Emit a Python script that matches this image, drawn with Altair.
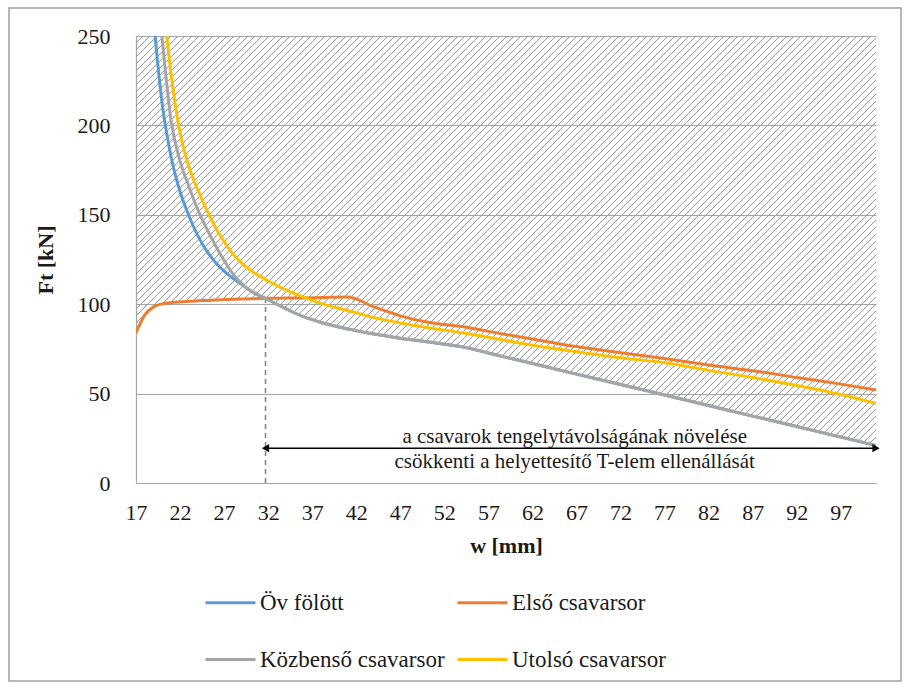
import altair as alt
import numpy as np
import pandas as pd

# ---- data -------------------------------------------------------------
w = [17, 18, 19, 20, 21, 22, 23, 24, 25, 26, 27, 28, 29, 30, 32, 34, 36, 38,
     41, 44, 47, 50, 54, 57, 62, 67, 72, 77, 82, 87, 92, 97, 101]

ov_folott = [420, 330, 260, 211, 182, 163, 149.5, 138.5, 130, 123.5, 118.5, 114.5,
             111, 107.5, 102.5, 97.5, 93, 89.8, 86.2, 83.3, 81, 79, 76.2, 72.7,
             66.8, 60.9, 55.1, 49.2, 43.3, 37.4, 31.6, 25.7, 21]
elso = [84, 94, 98.5, 100.2, 100.9, 101.3, 101.6, 101.9, 102.1, 102.4, 102.6,
        102.8, 102.9, 103, 103.3, 103.4, 103.5, 103.7, 104, 98.5, 93.5, 90, 87.5,
        84.8, 80.5, 76.3, 72.8, 69.6, 66, 62.8, 59, 55.3, 52]
kozbenso = [520, 400, 300, 247, 202, 180, 166, 153, 142.5, 133, 124.5, 117, 111.5,
            107.5, 102.5, 97.5, 93, 89.8, 86.2, 83.3, 81, 79, 76.2, 72.7, 66.8,
            60.9, 55.1, 49.2, 43.3, 37.4, 31.6, 25.7, 21]
utolso = [600, 450, 340, 275, 228, 196, 177, 164, 153, 143, 135, 128, 123, 119,
          113, 108, 104, 100.5, 96.5, 92.5, 89.5, 87, 84, 81.5, 77, 73.4, 70, 67.3,
          63, 59, 54.5, 49.5, 44.5]

series_names = ["Öv fölött", "Első csavarsor", "Közbenső csavarsor", "Utolsó csavarsor"]
series_colors = ["#5b9bd5", "#ed7d31", "#a5a5a5", "#ffc000"]
series_values = [ov_folott, elso, kozbenso, utolso]

x_ticks = list(range(17, 98, 5))
y_ticks = [0, 50, 100, 150, 200, 250]

limit_w = 31.7          # where the governing curve changes
limit_f = 103.2
arrow_f = 19.5
note_x = 66.8
note_lines = [("a csavarok tengelytávolságának növelése", 25.9),
              ("csökkenti a helyettesítő T-elem ellenállását", 11.9)]

# ---- geometry --------------------------------------------------------
PLOT_W, PLOT_H = 740, 447
X0, X1, Y1 = 17, 101, 250
FONT = "Liberation Serif"
TXT = "#1a1a1a"
GRID = "#a6a6a6"

lines_df = pd.DataFrame([
    {"w": xv, "Ft": yv, "series": name}
    for name, vals in zip(series_names, series_values)
    for xv, yv in zip(w, vals)
])

# diagonal hatching above the lowest curve (the envelope)
kx = PLOT_W / (X1 - X0)
ky = PLOT_H / Y1
xs = np.linspace(X0, X1, 8401)
envelope = np.min([np.interp(xs, w, v) for v in series_values], axis=0)
u = (xs - X0) * kx
hatch = []
for c in np.arange(-PLOT_H, PLOT_W, 7.0):
    yl = (u - c) / ky
    inside = (yl >= envelope) & (yl <= Y1)
    if not inside.any():
        continue
    edges = np.diff(np.concatenate([[0], inside.astype(int), [0]]))
    starts = np.where(edges == 1)[0]
    ends = np.where(edges == -1)[0] - 1
    for s, e in zip(starts, ends):
        if e > s:
            hatch.append({"hx": xs[s], "hy": yl[s], "hx2": xs[e], "hy2": yl[e]})
hatch_df = pd.DataFrame(hatch)

# ---- shared scales / axes -------------------------------------------
x_scale = alt.Scale(domain=[X0, X1], nice=False, zero=False)
y_scale = alt.Scale(domain=[0, Y1], nice=False)
x_axis = alt.Axis(values=x_ticks, title="w [mm]", grid=False, ticks=False,
                  labelFlush=False, labelOverlap=False, labelPadding=19,
                  titlePadding=12, domainColor=GRID, domainWidth=1.2)
y_axis = alt.Axis(values=y_ticks, title="Ft [kN]", grid=True, gridColor=GRID,
                  gridWidth=1.2, ticks=False, labelPadding=26, titlePadding=20,
                  domainColor=GRID, domainWidth=1.2)


def X(field):
    return alt.X(field, type="quantitative", scale=x_scale, axis=x_axis)


def Y(field):
    return alt.Y(field, type="quantitative", scale=y_scale, axis=y_axis)


frame = alt.Chart(pd.DataFrame({"k": [0]})).mark_rect(
    fill=None, stroke="#a0a0a0", strokeWidth=1.5
).encode(x=alt.value(9 - 136), x2=alt.value(901 - 136),
         y=alt.value(8 - 36), y2=alt.value(681 - 36))

hatch_layer = alt.Chart(hatch_df).mark_rule(color="#999999", strokeWidth=1).encode(
    x=X("hx"), y=Y("hy"), x2="hx2", y2="hy2")

limit_df = pd.DataFrame({"lw": [limit_w], "lf0": [0], "lf1": [limit_f]})
limit_layer = alt.Chart(limit_df).mark_rule(
    color="#7f7f7f", strokeWidth=1.5, strokeDash=[5, 4]
).encode(x=X("lw"), y=Y("lf0"), y2="lf1")

color = alt.Color(
    "series:N",
    scale=alt.Scale(domain=series_names, range=series_colors),
    legend=alt.Legend(
        title=None, orient="none", legendX=68, legendY=540, columns=2,
        direction="horizontal",
        symbolType="stroke", symbolSize=2500, symbolStrokeWidth=3,
        labelFont=FONT, labelFontSize=23, labelColor=TXT, labelLimit=400,
        labelOffset=3, columnPadding=6, rowPadding=18, gridAlign="all",
    ),
)

curve_layers = [
    alt.Chart(lines_df).transform_filter(alt.datum.series == name)
    .mark_line(strokeWidth=3, clip=True, interpolate="monotone")
    .encode(x=X("w"), y=Y("Ft"), color=color)
    for name in series_names
]

arrow_df = pd.DataFrame({"a0": [limit_w], "a1": [X1], "af": [arrow_f]})
arrow_line = alt.Chart(arrow_df).mark_rule(color="black", strokeWidth=1.5).encode(
    x=X("a0"), x2="a1", y=Y("af"))
heads_df = pd.DataFrame({"hw": [limit_w, X1], "hf": [arrow_f, arrow_f],
                         "shape": ["triangle-left", "triangle-right"],
                         "off": [5, -5]})
arrow_heads = alt.Chart(heads_df).mark_point(
    filled=True, color="black", size=70, opacity=1
).encode(x=X("hw"), y=Y("hf"), shape=alt.Shape("shape:N", scale=None),
         xOffset=alt.XOffset("off:Q", scale=None))

notes_df = pd.DataFrame({"nx": [note_x] * 2, "ny": [f for _, f in note_lines],
                         "txt": [t for t, _ in note_lines]})
notes = alt.Chart(notes_df).mark_text(
    font=FONT, fontSize=21, color=TXT, align="center", baseline="middle"
).encode(x=X("nx"), y=Y("ny"), text="txt:N")

chart = alt.layer(
    frame, hatch_layer, limit_layer, *curve_layers, arrow_line, arrow_heads, notes
).properties(
    width=PLOT_W, height=PLOT_H, background="white",
    autosize=alt.AutoSizeParams(type="none"),
    padding={"left": 136, "top": 36, "right": 28, "bottom": 201},
).configure_view(stroke=None).configure_axis(
    labelFont=FONT, labelFontSize=22, labelColor=TXT,
    titleFont=FONT, titleFontSize=22, titleFontWeight="bold", titleColor=TXT,
)

chart.save("out.html", embed_options={"renderer": "svg", "actions": False})
